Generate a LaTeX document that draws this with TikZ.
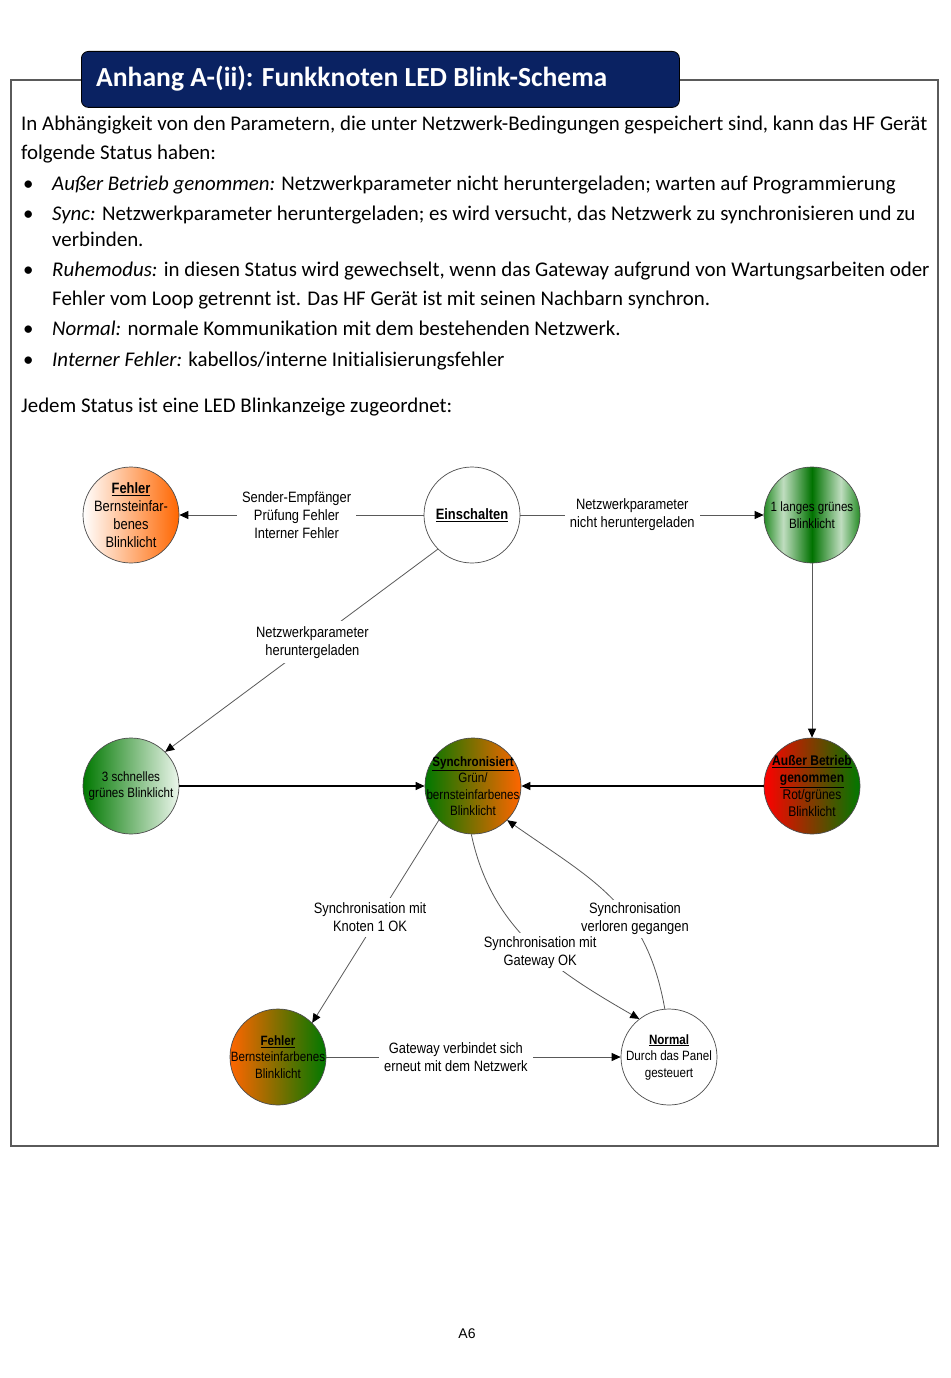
\documentclass[tikz,border=0pt]{standalone}
\usepackage{fontspec}
\setmainfont[Ligatures=NoCommon]{Carlito}
\newfontfamily\diagfont[FakeStretch=0.86]{Liberation Sans}
\newfontfamily\plainsans{Liberation Sans}
\usetikzlibrary{arrows.meta,shadings}
\definecolor{navy}{RGB}{10,34,98}
\definecolor{framegray}{RGB}{90,90,90}
\definecolor{ledorange}{RGB}{255,102,0}
\definecolor{ledgreen}{RGB}{0,120,0}
\definecolor{ledlight}{RGB}{236,246,236}
\definecolor{ledred}{RGB}{255,0,0}
\pgfdeclarehorizontalshading{greenstripe}{100bp}{color(0bp)=(ledgreen!85!white); color(25bp)=(ledgreen!85!white); color(35bp)=(ledgreen!25!white); color(50bp)=(ledgreen!95!black); color(65bp)=(ledgreen!25!white); color(75bp)=(ledgreen!85!white); color(100bp)=(ledgreen!85!white)}
\tikzset{
  body/.style={anchor=base west, inner sep=0pt, font=\fontsize{20.9}{25}\selectfont},
  led/.style={circle, draw=black!70, line width=0.7pt, minimum size=96pt, inner sep=0pt},
  ledtxt/.style={align=center, inner sep=0pt, font=\diagfont\fontsize{15}{18}\selectfont},
  ledtxts/.style={align=center, inner sep=0pt, font=\diagfont\fontsize{13.5}{16.5}\selectfont},
  lbl/.style={fill=white, inner sep=5pt, align=center, font=\diagfont\fontsize{15}{18}\selectfont},
  conn/.style={draw=black!65, line width=0.8pt, -{Triangle[length=9pt,width=8pt,color=black]}},
  connb/.style={draw=black, line width=1.1pt, -{Triangle[length=9pt,width=8pt,color=black]}},
}
\newcommand{\ul}[1]{\underline{\textbf{#1}}}
\newcommand{\itl}[1]{{\itshape #1}}
\begin{document}
\begin{tikzpicture}[x=1pt,y=-1pt]
\useasboundingbox (0,0) rectangle (950,1378);
\fill[white] (0,0) rectangle (950,1378);
% frame
\draw[framegray, line width=1.3pt] (11,80) rectangle (938,1146);
% title
\node[draw=black, line width=0.8pt, fill=navy, rounded corners=7pt, minimum width=598pt, minimum height=56pt, anchor=north west, inner sep=0pt] (titlebox) at (81,51) {};
\node[anchor=base west, inner sep=0pt, text=white, font=\bfseries\fontsize{27.6}{32}\selectfont] (title) at (96,87) {Anhang A-(ii): Funkknoten LED Blink-Schema};
% body text
\node[body] (t1) at (21,131) {In Abhängigkeit von den Parametern, die unter Netzwerk-Bedingungen gespeichert sind, kann das HF Gerät};
\node[body] (t2) at (21,160) {folgende Status haben:};
\node[body] (b1) at (23,190) {•};
\node[body] (t3) at (52,190) {\itl{Außer Betrieb genommen:} Netzwerkparameter nicht heruntergeladen; warten auf Programmierung};
\node[body] (b2) at (23,220) {•};
\node[body] (t4) at (52,220) {\itl{Sync:} Netzwerkparameter heruntergeladen; es wird versucht, das Netzwerk zu synchronisieren und zu};
\node[body] (t5) at (52,246) {verbinden.};
\node[body] (b3) at (23,276) {•};
\node[body] (t6) at (52,276) {\itl{Ruhemodus:} in diesen Status wird gewechselt, wenn das Gateway aufgrund von Wartungsarbeiten oder};
\node[body] (t7) at (52,305) {Fehler vom Loop getrennt ist. Das HF Gerät ist mit seinen Nachbarn synchron.};
\node[body] (b4) at (23,335) {•};
\node[body] (t8) at (52,335) {\itl{Normal:} normale Kommunikation mit dem bestehenden Netzwerk.};
\node[body] (b5) at (23,366) {•};
\node[body] (t9) at (52,366) {\itl{Interner Fehler:} kabellos/interne Initialisierungsfehler};
\node[body] (t10) at (21,412) {Jedem Status ist eine LED Blinkanzeige zugeordnet:};
% LED nodes
\node[led, left color=white, right color=ledorange] (fehlert) at (131,515) {};
\node[ledtxt] (fehlertT) at (fehlert) {\ul{Fehler}\\Bernsteinfar-\\benes\\Blinklicht};
\node[led, fill=white] (ein) at (472,515) {};
\node[ledtxt] (einT) at (ein) {\ul{Einschalten}};
\node[led, shading=greenstripe] (lang) at (812,515) {};
\node[ledtxts] (langT) at (lang) {1 langes grünes\\Blinklicht};
\node[led, left color=ledgreen, right color=ledlight] (schnell) at (131,786) {};
\node[ledtxts] (schnellT) at (schnell) {3 schnelles\\grünes Blinklicht};
\node[led, left color=ledgreen, right color=ledorange] (sync) at (473,786) {};
\node[ledtxts] (syncT) at (sync) {\ul{Synchronisiert}\\Grün/\\bernsteinfarbenes\\Blinklicht};
\node[led, left color=ledred, right color=ledgreen] (ausser) at (812,786) {};
\node[ledtxt, font=\diagfont\fontsize{14}{17}\selectfont] (ausserT) at (ausser) {\ul{Außer Betrieb}\\\ul{genommen}\\Rot/grünes\\Blinklicht};
\node[led, left color=ledorange, right color=ledgreen] (fehlerb) at (278,1057) {};
\node[ledtxts] (fehlerbT) at (fehlerb) {\ul{Fehler}\\Bernsteinfarbenes\\Blinklicht};
\node[led, fill=white] (normal) at (669,1057) {};
\node[ledtxts] (normalT) at (normal) {\ul{Normal}\\Durch das Panel\\gesteuert};
% connectors
\draw[conn] (ein) -- node[lbl, pos=0.52] (l1) {Sender-Empfänger\\Prüfung Fehler\\Interner Fehler} (fehlert);
\draw[conn] (ein) -- node[lbl, pos=0.46] (l2) {Netzwerkparameter\\nicht heruntergeladen} (lang);
\draw[conn] (ein.225) -- node[lbl, pos=0.46] (l3) {Netzwerkparameter\\heruntergeladen} (schnell.45);
\draw[conn] (lang) -- (ausser);
\draw[connb] (ausser) -- (sync);
\draw[connb] (schnell) -- (sync);
\draw[conn] (sync.225) -- node[lbl, pos=0.48, xshift=-8pt] (l4) {Synchronisation mit\\Knoten 1 OK} (fehlerb.45);
\draw[conn] (normal.95) to[out=100, in=-35, looseness=1.1] node[lbl, pos=0.38, xshift=6pt, inner sep=3pt] (l6) {Synchronisation\\verloren gegangen} (sync.-45);
\draw[conn] (sync.-92) to[out=-78, in=150] node[lbl, pos=0.55, inner sep=3pt] (l5) {Synchronisation mit\\Gateway OK} (normal.128);
\draw[conn] (fehlerb) -- node[lbl, pos=0.44] (l7) {Gateway verbindet sich\\erneut mit dem Netzwerk} (normal);
% footer
\node[anchor=base, inner sep=0pt, font=\plainsans\fontsize{14}{17}\selectfont] (foot) at (467,1338) {A6};
\end{tikzpicture}
\end{document}
